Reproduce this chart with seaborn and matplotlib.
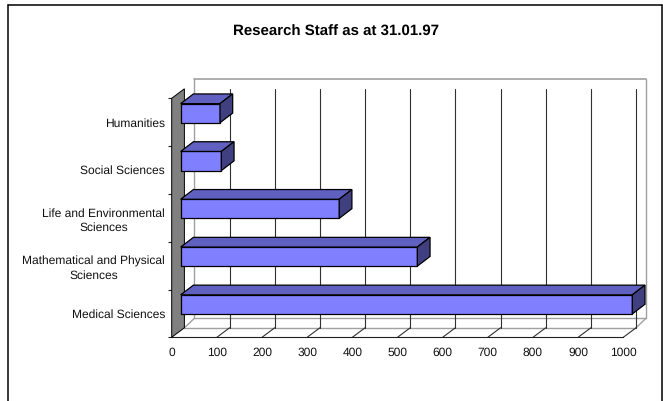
from __future__ import annotations

import matplotlib

matplotlib.use("Agg")

import matplotlib.pyplot as plt
import numpy as np
import pandas as pd
import seaborn as sns
from matplotlib.lines import Line2D
from matplotlib.patches import Polygon
from matplotlib.transforms import Affine2D, IdentityTransform

CATEGORIES = [
    "Humanities",
    "Social Sciences",
    "Life and Environmental\nSciences",
    "Mathematical and Physical\nSciences",
    "Medical Sciences",
]
STAFF = [87, 90, 351, 524, 1000]
X_TICKS = list(range(0, 1001, 100))
TITLE = "Research Staff as at 31.01.97"

W, H = 663, 401
FRONT, TOP, SIDE = "#8080FF", "#6060C0", "#404080"
WALL_GREY = "#808080"
LINE_GREY = "#A0A0A0"
GRID = "#303030"
TEXT = "#111111"
BAR_SHIFT = (9, 9)
BAR_DEPTH = (12.7, 9.7)
DEPTH_1 = (12.7, 9.5)
DEPTH_2 = (22.7, 19)


def main() -> None:
    sns.set_theme(style="white")
    plt.rcParams["font.family"] = ["Liberation Sans", "DejaVu Sans"]
    plt.rcParams["text.hinting"] = "no_hinting"
    plt.rcParams["text.hinting_factor"] = 1

    fig = plt.figure(figsize=(W / 100, H / 100), dpi=100, facecolor="white")
    ax = fig.add_axes([171.7 / W, (H - 337.3) / H, 451.6 / W, 239 / H])
    ax.patch.set_alpha(0)

    df = pd.DataFrame({"field": CATEGORIES, "staff": STAFF})
    sns.barplot(
        data=df, x="staff", y="field", orient="h", width=0.4, color=FRONT,
        saturation=1, edgecolor="black", linewidth=0.9, ax=ax, zorder=5,
    )
    ax.set_xlim(0, X_TICKS[-1])
    ax.set_ylim(len(CATEGORIES) - 0.5, -0.5)
    ax.set_xlabel("")
    ax.set_ylabel("")

    def to_px(x, y, off=(0, 0)):
        px = ax.transData.transform((x, y))
        return px[0] + off[0], px[1] + off[1]

    def seg(p, q, color, lw=0.75, z=1):
        ax.add_line(Line2D([p[0], q[0]], [p[1], q[1]], color=color, lw=lw, zorder=z,
                           transform=IdentityTransform(), clip_on=False))

    y_bot, y_top = ax.get_ylim()
    x_max = X_TICKS[-1]

    # back wall and floor outlines
    seg(to_px(0, y_bot, DEPTH_2), to_px(0, y_top, DEPTH_2), LINE_GREY, 1.0)
    seg(to_px(0, y_top, DEPTH_2), to_px(x_max, y_top, DEPTH_2), LINE_GREY, 1.2)
    seg(to_px(x_max, y_top, DEPTH_2), to_px(x_max, y_bot, DEPTH_2), LINE_GREY, 1.0)
    seg(to_px(0, y_bot, DEPTH_2), to_px(x_max, y_bot, DEPTH_2), LINE_GREY, 1.0)
    seg(to_px(0, y_bot, DEPTH_1), to_px(x_max, y_bot, DEPTH_1), LINE_GREY, 1.0)
    seg(to_px(0, y_bot, DEPTH_1), to_px(0, y_bot, DEPTH_2), LINE_GREY, 1.0)
    seg(to_px(x_max, y_bot, DEPTH_1), to_px(x_max, y_bot, DEPTH_2), LINE_GREY, 1.0)

    # grid sits on the first depth plane, each line joined to its axis tick
    for tick in X_TICKS[1:]:
        seg(to_px(tick, y_bot, DEPTH_1), to_px(tick, y_top, DEPTH_1), GRID, 0.8, 2)
        seg(to_px(tick, y_bot), to_px(tick, y_bot, DEPTH_1), GRID, 0.8, 2)

    # left side wall
    wall = [to_px(0, y_bot), to_px(0, y_top), to_px(0, y_top, DEPTH_1), to_px(0, y_bot, DEPTH_1)]
    ax.add_patch(Polygon(wall, closed=True, facecolor=WALL_GREY, edgecolor="black", lw=0.7,
                         transform=IdentityTransform(), clip_on=False, zorder=3))

    # push the front faces forward from the wall and add top and side faces
    shift = Affine2D().translate(*BAR_SHIFT)
    for bar in ax.containers[0]:
        bar.set_transform(ax.transData + shift)
        bar.set_clip_on(False)
        x0, x1 = bar.get_x(), bar.get_x() + bar.get_width()
        y0, y1 = sorted([bar.get_y(), bar.get_y() + bar.get_height()])
        back = (BAR_SHIFT[0] + BAR_DEPTH[0], BAR_SHIFT[1] + BAR_DEPTH[1])
        top = [to_px(x0, y0, BAR_SHIFT), to_px(x1, y0, BAR_SHIFT), to_px(x1, y0, back), to_px(x0, y0, back)]
        side = [to_px(x1, y0, BAR_SHIFT), to_px(x1, y1, BAR_SHIFT), to_px(x1, y1, back), to_px(x1, y0, back)]
        for face, colour in ((top, TOP), (side, SIDE)):
            ax.add_patch(Polygon(face, closed=True, facecolor=colour, edgecolor="black", lw=0.9,
                                 transform=IdentityTransform(), clip_on=False, zorder=6))

    for name in ("top", "right"):
        ax.spines[name].set_visible(False)
    for name in ("left", "bottom"):
        ax.spines[name].set_color("#202020")
        ax.spines[name].set_linewidth(0.8)

    ax.set_xticks(X_TICKS)
    ax.set_yticks(range(len(CATEGORIES)), CATEGORIES, multialignment="center", linespacing=1.35)
    ax.set_yticks(np.arange(len(CATEGORIES) + 1) - 0.5, minor=True)
    ax.tick_params(axis="x", length=0, pad=7, labelsize=8.4, labelcolor=TEXT)
    ax.tick_params(axis="y", which="major", length=0, pad=4.8, labelsize=8.4, labelcolor=TEXT)
    ax.tick_params(axis="y", which="minor", length=3, width=0.8, color="#202020", left=True)

    fig.text(336.5 / W, (H - 32) / H, TITLE, ha="center", va="center", fontsize=11.1,
             fontweight="bold", color="black")

    # chart frame, open along the bottom edge
    for xs, ys in (([7.5, 7.5], [H, 5]), ([7.5, 661.5], [5, 5]), ([661.5, 661.5], [5, H])):
        fig.add_artist(Line2D(np.array(xs) / W, 1 - np.array(ys) / H, color="black", lw=1.1,
                              transform=fig.transFigure))

    fig.savefig("out.png", dpi=100)
    plt.close(fig)


if __name__ == "__main__":
    main()
